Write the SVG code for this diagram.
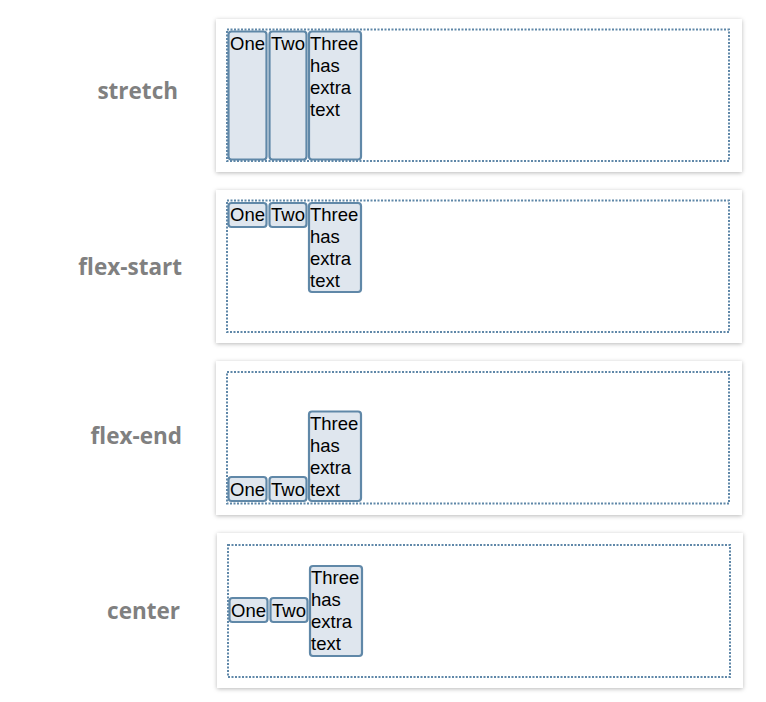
<svg xmlns="http://www.w3.org/2000/svg" width="766" height="702" viewBox="0 0 766 702">
<defs>
<filter id="sh" x="-5%" y="-10%" width="110%" height="125%">
<feDropShadow dx="0" dy="1" stdDeviation="2.2" flood-color="#000" flood-opacity="0.28"/>
</filter>
</defs>
<style>
.card{fill:#fff;filter:url(#sh)}
.box{fill:none;stroke:#5f87a8;stroke-width:2;stroke-dasharray:2 1.5}
.it{fill:#dfe6ee;stroke:#6088a8;stroke-width:2.2}
.t{font-family:"Liberation Sans",Arial,sans-serif;font-size:18.5px;fill:#000}
.lbl{font-family:"Open Sans",sans-serif;font-weight:bold;font-size:22.5px;fill:#808080;text-anchor:end}
</style>
<rect width="766" height="702" fill="#fff"/>

<g id="stretch">
<text class="lbl" x="178" y="99">stretch</text>
<rect class="card" x="216" y="19" width="526" height="153"/>
<rect class="box" x="227" y="29.5" width="502" height="131.5"/>
<rect class="it" x="228.5" y="31.5" width="38" height="128" rx="3"/>
<rect class="it" x="269.5" y="31.5" width="37" height="128" rx="3"/>
<rect class="it" x="309" y="31.5" width="52" height="128" rx="3"/>
<text class="t" x="230" y="50">One</text>
<text class="t" x="271" y="50">Two</text>
<text class="t" x="310" y="50">Three</text>
<text class="t" x="310" y="72">has</text>
<text class="t" x="310" y="94">extra</text>
<text class="t" x="310" y="116">text</text>
</g>

<g id="flex-start">
<text class="lbl" x="182" y="275">flex-start</text>
<rect class="card" x="216" y="190" width="526" height="153"/>
<rect class="box" x="227" y="200.5" width="502" height="131.5"/>
<rect class="it" x="228.5" y="203" width="38" height="24" rx="3"/>
<rect class="it" x="269.5" y="203" width="37" height="24" rx="3"/>
<rect class="it" x="309" y="203" width="52" height="89" rx="3"/>
<text class="t" x="230" y="221">One</text>
<text class="t" x="271" y="221">Two</text>
<text class="t" x="310" y="221">Three</text>
<text class="t" x="310" y="243">has</text>
<text class="t" x="310" y="265">extra</text>
<text class="t" x="310" y="287">text</text>
</g>

<g id="flex-end">
<text class="lbl" x="182" y="444">flex-end</text>
<rect class="card" x="216" y="361" width="526" height="154"/>
<rect class="box" x="227" y="372" width="502" height="131.5"/>
<rect class="it" x="228.5" y="477" width="38" height="24" rx="3"/>
<rect class="it" x="269.5" y="477" width="37" height="24" rx="3"/>
<rect class="it" x="309" y="411.5" width="52" height="89.5" rx="3"/>
<text class="t" x="230" y="496">One</text>
<text class="t" x="271" y="496">Two</text>
<text class="t" x="310" y="430">Three</text>
<text class="t" x="310" y="452">has</text>
<text class="t" x="310" y="474">extra</text>
<text class="t" x="310" y="496">text</text>
</g>

<g id="center">
<text class="lbl" x="180" y="619">center</text>
<rect class="card" x="217" y="533" width="526" height="155"/>
<rect class="box" x="228" y="545" width="502" height="132"/>
<rect class="it" x="229.5" y="598" width="38" height="24" rx="3"/>
<rect class="it" x="270.5" y="598" width="37" height="24" rx="3"/>
<rect class="it" x="310" y="566" width="52" height="90" rx="3"/>
<text class="t" x="231" y="617">One</text>
<text class="t" x="272" y="617">Two</text>
<text class="t" x="311" y="584">Three</text>
<text class="t" x="311" y="606">has</text>
<text class="t" x="311" y="628">extra</text>
<text class="t" x="311" y="650">text</text>
</g>
</svg>
